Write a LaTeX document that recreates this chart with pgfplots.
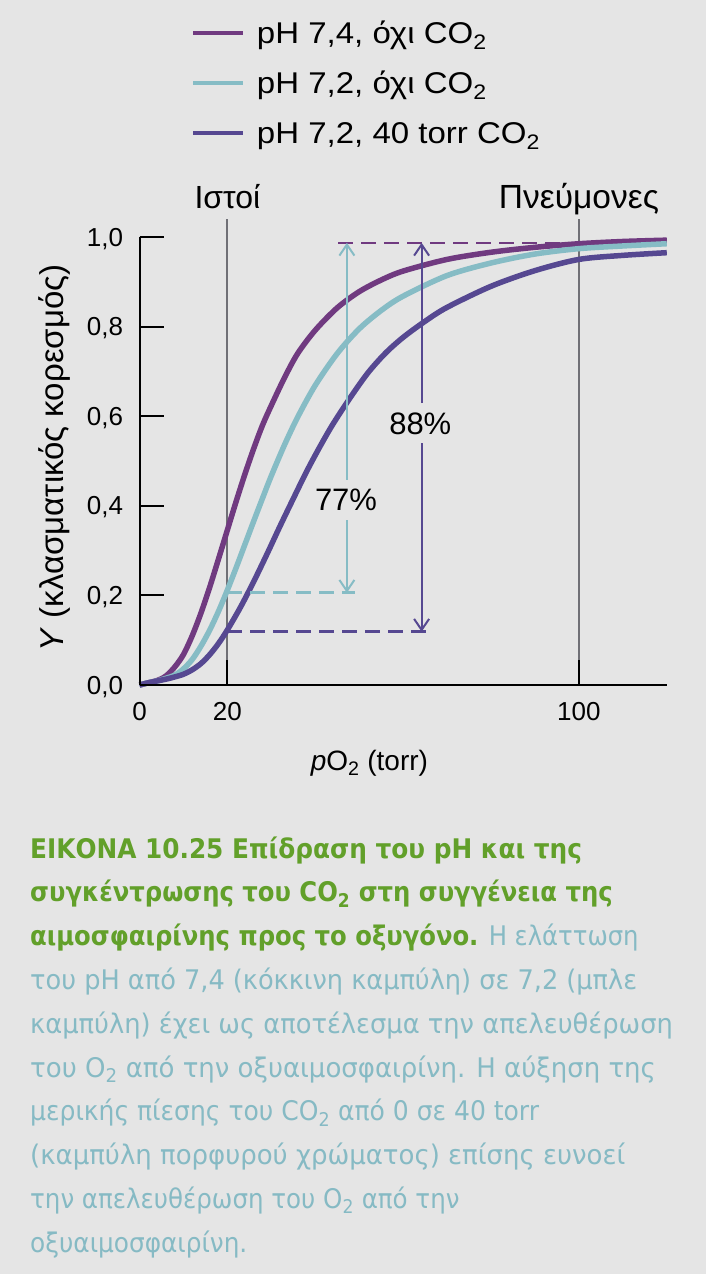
\documentclass[border=0pt]{standalone}
\usepackage{fontspec}
\setmainfont{Liberation Sans}
\newfontfamily\legfont{Liberation Sans}[FakeStretch=1.1]
\newfontfamily\capfont{DejaVu Sans Condensed}
\usepackage{pgfplots}
\pgfplotsset{compat=1.18}
\usetikzlibrary{arrows.meta}
\definecolor{bg}{RGB}{229,229,229}
\definecolor{cpurple}{RGB}{112,58,128}
\definecolor{ccyan}{RGB}{134,188,197}
\definecolor{cdark}{RGB}{86,72,145}
\definecolor{cgray}{RGB}{112,112,118}
\definecolor{cgreen}{RGB}{98,160,42}
\definecolor{ctext}{RGB}{134,186,196}
\begin{document}
\begin{tikzpicture}
\fill[bg] (0,0) rectangle (706pt,-1274pt);
\path[use as bounding box] (0,0) rectangle (706pt,-1274pt);
\begin{axis}[
  at={(139.5pt,-685pt)}, anchor=south west,
  scale only axis, width=527.3pt, height=448pt,
  xmin=0, xmax=120, ymin=0, ymax=1,
  clip=false,
  axis x line=bottom, axis y line=left,
  axis line style={-, line width=2pt, black},
  axis on top,
  xtick={0,20,100}, ytick={0,0.2,0.4,0.6,0.8,1},
  tick align=inside, major tick length=25pt,
  every tick/.style={black, line width=2pt},
  tick label style={font=\fontsize{26}{26}\selectfont, /pgf/number format/assume math mode=true},
  xticklabel style={anchor=base, yshift=-35pt},
  yticklabel style={anchor=base east, xshift=-13pt, yshift=-9pt,
    /pgf/number format/.cd, fixed, fixed zerofill, precision=1, use comma, assume math mode=true},
  xlabel={\textit{p}O\textsubscript{2} (torr)},
  xlabel style={font=\fontsize{28}{28}\selectfont, at={(axis description cs:0.436,0)}, anchor=base, yshift=-85pt},
  ylabel={\textit{Y} (κλασματικός κορεσμός)},
  ylabel style={font=\fontsize{33}{33}\selectfont, at={(axis description cs:-0.145,0.507)}, anchor=base, rotate=0},
  legend style={at={(axis description cs:0.0977,1.482)}, anchor=north west, draw=none, fill=none, inner sep=0pt,
    font=\legfont\fontsize{30}{30}\selectfont, row sep=20pt,
    nodes={inner sep=0pt, text height=22pt, text depth=8pt}},
  legend cell align=left,
  legend image code/.code={\draw[#1, line width=4pt] (0pt,3pt) -- (50pt,3pt); \path (61pt,3pt);},
]
\draw[cgray, line width=2pt] (axis cs:20,0) -- (axis cs:20,1.04);
\draw[cgray, line width=2pt] (axis cs:100,0) -- (axis cs:100,1.04);

\addplot[cpurple, line width=5.5pt, smooth] coordinates {
(0,0) (2,0.005) (4,0.01) (6,0.02) (8,0.04) (10,0.068) (12,0.11) (14,0.161) (16,0.219)
(18,0.282) (20,0.346) (22,0.41) (24,0.471) (26,0.528) (28,0.58) (30,0.624) (33,0.686)
(36,0.74) (40,0.792) (45,0.842) (50,0.878) (55,0.904) (60,0.924) (70,0.95) (80,0.966)
(90,0.977) (100,0.985) (110,0.99) (120,0.993)};
\addlegendentry{pH 7,4, όχι CO\textsubscript{2}}

\addplot[ccyan, line width=5.5pt, smooth] coordinates {
(0,0) (2,0.005) (4,0.009) (6,0.015) (8,0.022) (10,0.036) (12,0.057) (14,0.087) (16,0.123)
(18,0.165) (20,0.212) (22,0.262) (24,0.314) (26,0.366) (28,0.417) (30,0.467) (33,0.536)
(36,0.598) (40,0.669) (45,0.74) (50,0.795) (55,0.836) (60,0.868) (70,0.914) (80,0.942)
(90,0.962) (100,0.974) (110,0.98) (120,0.985)};
\addlegendentry{pH 7,2, όχι CO\textsubscript{2}}

\addplot[cdark, line width=5.5pt, smooth] coordinates {
(0,0) (2,0.005) (4,0.009) (6,0.013) (8,0.018) (10,0.024) (12,0.034) (14,0.048) (16,0.068)
(18,0.093) (20,0.123) (23,0.174) (26,0.231) (29,0.292) (32,0.355) (35,0.416) (38,0.476)
(41,0.531) (44,0.582) (48,0.642) (52,0.697) (56,0.741) (60,0.776) (65,0.812) (70,0.843)
(80,0.89) (90,0.925) (100,0.95) (110,0.959) (120,0.965)};
\addlegendentry{pH 7,2, 40 torr CO\textsubscript{2}}

% annotations
\draw[cpurple, line width=2.5pt, dash pattern=on 15pt off 8pt] (axis cs:45.2,0.987) -- (axis cs:97,0.987);
\draw[ccyan, line width=2.5pt, dash pattern=on 15pt off 8pt] (axis cs:20,0.206) -- (axis cs:49.1,0.206);
\draw[cdark, line width=2.5pt, dash pattern=on 15pt off 8pt] (axis cs:20,0.119) -- (axis cs:66.1,0.119);
\draw[ccyan, line width=2pt, -{Straight Barb[length=11pt,width=15pt]}] (axis cs:47.2,0.458) -- (axis cs:47.2,0.987);
\draw[ccyan, line width=2pt, -{Straight Barb[length=11pt,width=15pt]}] (axis cs:47.2,0.368) -- (axis cs:47.2,0.206);
\draw[cdark, line width=2pt, -{Straight Barb[length=11pt,width=15pt]}] (axis cs:64.2,0.629) -- (axis cs:64.2,0.987);
\draw[cdark, line width=2pt, -{Straight Barb[length=11pt,width=15pt]}] (axis cs:64.2,0.540) -- (axis cs:64.2,0.119);
\node[font=\fontsize{31}{31}\selectfont] at (axis cs:47,0.413) {77\%};
\node[font=\fontsize{31}{31}\selectfont] at (axis cs:63.9,0.584) {88\%};
\node[font=\fontsize{32}{32}\selectfont, anchor=base] at (axis cs:20,1.064) {Ιστοί};
\node[font=\fontsize{33.5}{33.5}\selectfont, anchor=base] at (axis cs:100,1.064) {Πνεύμονες};
\end{axis}
\begin{scope}[font=\capfont\fontsize{27}{27}\selectfont]
\def\cl#1#2#3{\node[anchor=base west, inner sep=0pt, xscale=#2] at (30pt,-#1pt) {#3};}
\cl{858}{1.02}{\color{cgreen}\bfseries ΕΙΚΟΝΑ 10.25 Επίδραση του pH και της}
\cl{901.8}{1}{\color{cgreen}\bfseries συγκέντρωσης του CO\textsubscript{2} στη συγγένεια της}
\cl{945.6}{1}{{\color{cgreen}\bfseries αιμοσφαιρίνης προς το οξυγόνο.} \color{ctext}Η ελάττωση}
\cl{989.4}{1.055}{\color{ctext}του pH από 7,4 (κόκκινη καμπύλη) σε 7,2 (μπλε}
\cl{1033.2}{1.06}{\color{ctext}καμπύλη) έχει ως αποτέλεσμα την απελευθέρωση}
\cl{1077}{1.07}{\color{ctext}του O\textsubscript{2} από την οξυαιμοσφαιρίνη. Η αύξηση της}
\cl{1120.8}{1.03}{\color{ctext}μερικής πίεσης του CO\textsubscript{2} από 0 σε 40 torr}
\cl{1164.6}{1.07}{\color{ctext}(καμπύλη πορφυρού χρώματος) επίσης ευνοεί}
\cl{1208.4}{1.01}{\color{ctext}την απελευθέρωση του O\textsubscript{2} από την}
\cl{1252.2}{1.02}{\color{ctext}οξυαιμοσφαιρίνη.}
\end{scope}
\end{tikzpicture}
\end{document}
